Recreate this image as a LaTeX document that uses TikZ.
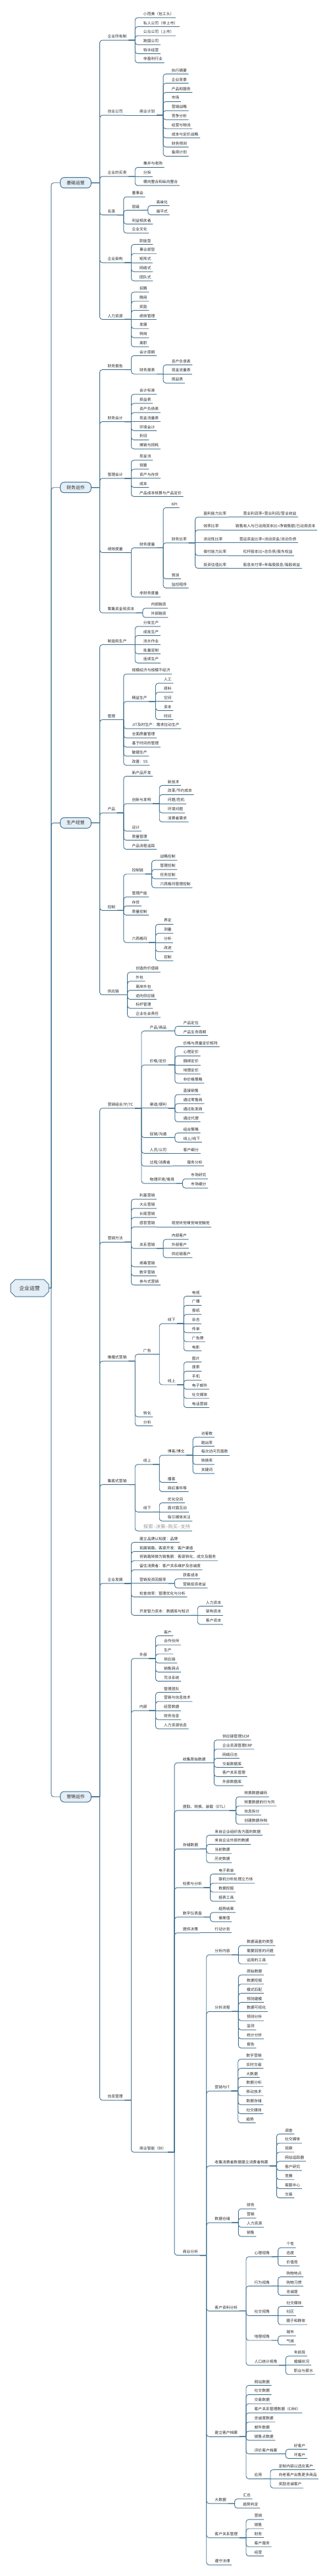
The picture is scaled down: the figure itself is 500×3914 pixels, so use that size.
\documentclass[tikz,border=0pt]{standalone}
\usepackage{fontspec}
\setmainfont{Noto Sans CJK SC}
\usetikzlibrary{shapes.misc}
\definecolor{linec}{RGB}{70,115,145}
\definecolor{boxc}{RGB}{228,238,246}
\definecolor{txtc}{RGB}{40,40,40}
\tikzset{
  topic/.style={anchor=west, xshift=20pt, inner xsep=2.5pt, inner ysep=2pt,
    text height=4.6pt, text depth=1.2pt, text=txtc,
    font=\fontsize{5.8}{6}\selectfont},
  sub/.style={topic, xshift=2pt},
  note/.style={topic, text=gray!80, text height=6pt, text depth=1.5pt,
    font=\fontsize{7.4}{8}\selectfont},
  main/.style={draw=linec, line width=1pt, fill=boxc, rounded corners=6pt,
    minimum width=46.7pt, minimum height=16pt, inner sep=0pt, text=txtc,
    font=\fontsize{6.8}{7}\selectfont},
  root/.style={draw=linec, line width=1pt, fill=boxc, chamfered rectangle,
    chamfered rectangle xsep=4pt, minimum width=58pt, minimum height=26pt,
    inner sep=0pt, text=txtc, font=\fontsize{7.8}{8}\selectfont},
  link/.style={draw=linec, line width=.9pt, rounded corners=4pt},
  rt/.style={link, to path={(\tikztostart.east) -- ++(3.3pt,0) ++(0,0) |- (\tikztotarget.west)}},
  brb/.style={link, to path={(\tikztostart.east) -- ++(12.7pt,0) ++(0,0) |- (\tikztotarget.south east)}},
  br/.style={link, to path={(\tikztostart.south east) -- ++(10pt,0) ++(0,0) |- (\tikztotarget.south east)}},
  one/.style={link, to path={(\tikztostart.south east) -- (\tikztotarget.south east)}},
}
\begin{document}
\begin{tikzpicture}[x=1pt, y=-1pt]
\useasboundingbox (0,0) rectangle (500,3914);

% root and main branches
\node[root] (qy) at (45,1957) {企业运营};
\node[main] (jc) at (115,277.7) {基础运营};
\node[main] (cw) at (115,740.7) {财务运作};
\node[main] (sc) at (115,1250.3) {生产经营};
\node[main] (yx) at (115,2730) {营销运作};

% 基础运营
\node[sub] (jc1) at (jc.east |- 0,56) {企业所有制};
\node[topic] (jc1a) at (jc1.east |- 0,21.7) {小而美（包工头）};
\node[topic] (jc1b) at (jc1.east |- 0,35.4) {私人公司（非上市）};
\node[topic] (jc1c) at (jc1.east |- 0,49.1) {公众公司（上市）};
\node[topic] (jc1d) at (jc1.east |- 0,62.8) {跨国公司};
\node[topic] (jc1e) at (jc1.east |- 0,76.5) {特许经营};
\node[topic] (jc1f) at (jc1.east |- 0,90.2) {非盈利行业};
\node[sub] (jc2) at (jc.east |- 0,170) {创业公司};
\node[topic] (jc2a) at (jc2.east |- 0,170) {商业计划};
\node[topic] (jc2a1) at (jc2a.east |- 0,107.3) {执行摘要};
\node[topic] (jc2a2) at (jc2a.east |- 0,121.3) {企业背景};
\node[topic] (jc2a3) at (jc2a.east |- 0,135.3) {产品和服务};
\node[topic] (jc2a4) at (jc2a.east |- 0,149.2) {市场};
\node[topic] (jc2a5) at (jc2a.east |- 0,163) {营销战略};
\node[topic] (jc2a6) at (jc2a.east |- 0,176.8) {竞争分析};
\node[topic] (jc2a7) at (jc2a.east |- 0,190.6) {经营与物流};
\node[topic] (jc2a8) at (jc2a.east |- 0,204.4) {成本与定价战略};
\node[topic] (jc2a9) at (jc2a.east |- 0,218.3) {财务预测};
\node[topic] (jc2a10) at (jc2a.east |- 0,232.2) {备用计划};
\node[sub] (jc3) at (jc.east |- 0,263) {企业的买卖};
\node[topic] (jc3a) at (jc3.east |- 0,249.2) {兼并与收购};
\node[topic] (jc3b) at (jc3.east |- 0,263) {分拆};
\node[topic] (jc3c) at (jc3.east |- 0,276.8) {横向整合和纵向整合};
\node[sub] (jc4) at (jc.east |- 0,321.5) {名录};
\node[topic] (jc4a) at (jc4.east |- 0,294) {董事会};
\node[topic] (jc4b) at (jc4.east |- 0,314.3) {层级};
\node[topic] (jc4b1) at (jc4b.east |- 0,307.3) {高耸化};
\node[topic] (jc4b2) at (jc4b.east |- 0,321.3) {扁平式};
\node[topic] (jc4c) at (jc4.east |- 0,335.3) {利益相关者};
\node[topic] (jc4d) at (jc4.east |- 0,349) {企业文化};
\node[sub] (jc5) at (jc.east |- 0,394) {企业架构};
\node[topic] (jc5a) at (jc5.east |- 0,366.3) {职能型};
\node[topic] (jc5b) at (jc5.east |- 0,380.1) {事业部型};
\node[topic] (jc5c) at (jc5.east |- 0,394) {矩阵式};
\node[topic] (jc5d) at (jc5.east |- 0,407.8) {网络式};
\node[topic] (jc5e) at (jc5.east |- 0,421.7) {团队式};
\node[sub] (jc6) at (jc.east |- 0,480.3) {人力资源};
\node[topic] (jc6a) at (jc6.east |- 0,438.7) {招聘};
\node[topic] (jc6b) at (jc6.east |- 0,452.6) {聘用};
\node[topic] (jc6c) at (jc6.east |- 0,466.4) {奖励};
\node[topic] (jc6d) at (jc6.east |- 0,480.3) {绩效管理};
\node[topic] (jc6e) at (jc6.east |- 0,494.1) {发展};
\node[topic] (jc6f) at (jc6.east |- 0,508) {转岗};
\node[topic] (jc6g) at (jc6.east |- 0,521.8) {离职};

% 财务运作
\node[sub] (cw1) at (cw.east |- 0,556.5) {财务报告};
\node[topic] (cw1a) at (cw1.east |- 0,535.3) {会计周期};
\node[topic] (cw1b) at (cw1.east |- 0,563.1) {财务报表};
\node[topic] (cw1b1) at (cw1b.east |- 0,549.3) {资产负债表};
\node[topic] (cw1b2) at (cw1b.east |- 0,563.1) {现金流量表};
\node[topic] (cw1b3) at (cw1b.east |- 0,577) {损益表};
\node[sub] (cw2) at (cw.east |- 0,635.5) {财务会计};
\node[topic] (cw2a) at (cw2.east |- 0,594) {会计标准};
\node[topic] (cw2b) at (cw2.east |- 0,607.8) {损益表};
\node[topic] (cw2c) at (cw2.east |- 0,621.7) {资产负债表};
\node[topic] (cw2d) at (cw2.east |- 0,635.5) {现金流量表};
\node[topic] (cw2e) at (cw2.east |- 0,649.3) {环境会计};
\node[topic] (cw2f) at (cw2.east |- 0,663.2) {折旧};
\node[topic] (cw2g) at (cw2.east |- 0,677) {摊销与损耗};
\node[sub] (cw3) at (cw.east |- 0,721.7) {管理会计};
\node[topic] (cw3a) at (cw3.east |- 0,694) {现金流};
\node[topic] (cw3b) at (cw3.east |- 0,707.8) {预算};
\node[topic] (cw3c) at (cw3.east |- 0,721.7) {资产与存货};
\node[topic] (cw3d) at (cw3.east |- 0,735.5) {成本};
\node[topic] (cw3e) at (cw3.east |- 0,749.3) {产品成本核算与产品定价};
\node[sub] (cw4) at (cw.east |- 0,834.5) {绩效度量};
\node[topic] (cw4a) at (cw4.east |- 0,827.3) {财务度量};
\node[topic] (cw4a1) at (cw4a.east |- 0,766.3) {KPI};
\node[topic] (cw4a2) at (cw4a.east |- 0,819.7) {财务比率};
\node[topic] (cw4a2a) at (cw4a2.east |- 0,780.7) {盈利能力比率};
\node[topic] (cw4a2a1) at (cw4a2a.east |- 0,780.7) {营业利润率=营业利润/营业收益};
\node[topic] (cw4a2b) at (cw4a2.east |- 0,800) {效率比率};
\node[topic] (cw4a2b1) at (cw4a2b.east |- 0,800) {销售收入与已动用资本比=净销售额/已动用资本};
\node[topic] (cw4a2c) at (cw4a2.east |- 0,819.7) {流动性比率};
\node[topic] (cw4a2c1) at (cw4a2c.east |- 0,819.7) {营运资金比率=流动资金/流动负债};
\node[topic] (cw4a2d) at (cw4a2.east |- 0,839) {偿付能力比率};
\node[topic] (cw4a2d1) at (cw4a2d.east |- 0,839) {杠杆股本比=总负债/股东权益};
\node[topic] (cw4a2e) at (cw4a2.east |- 0,858.3) {投资估值比率};
\node[topic] (cw4a2e1) at (cw4a2e.east |- 0,858.3) {股息支付率=年每股股息/每股收益};
\node[topic] (cw4a3) at (cw4a.east |- 0,874.3) {预测};
\node[topic] (cw4a4) at (cw4a.east |- 0,888.3) {监控程序};
\node[topic] (cw4b) at (cw4.east |- 0,902) {非财务度量};
\node[sub] (cw5) at (cw.east |- 0,926) {筹集资金和资本};
\node[topic] (cw5a) at (cw5.east |- 0,919) {内部融资};
\node[topic] (cw5b) at (cw5.east |- 0,933) {外部融资};

% 生产经营
\node[sub] (sc1) at (sc.east |- 0,974.4) {制造和生产};
\node[topic] (sc1a) at (sc1.east |- 0,946.7) {分批生产};
\node[topic] (sc1b) at (sc1.east |- 0,960.5) {成批生产};
\node[topic] (sc1c) at (sc1.east |- 0,974.4) {流水作业};
\node[topic] (sc1d) at (sc1.east |- 0,988.3) {批量定制};
\node[topic] (sc1e) at (sc1.east |- 0,1002.2) {连续生产};
\node[sub] (sc2) at (sc.east |- 0,1088.4) {管理};
\node[topic] (sc2a) at (sc2.east |- 0,1019) {规模经济与规模不经济};
\node[topic] (sc2b) at (sc2.east |- 0,1060.7) {精益生产};
\node[topic] (sc2b1) at (sc2b.east |- 0,1033) {人工};
\node[topic] (sc2b2) at (sc2b.east |- 0,1046.8) {原料};
\node[topic] (sc2b3) at (sc2b.east |- 0,1060.7) {空间};
\node[topic] (sc2b4) at (sc2b.east |- 0,1074.5) {资本};
\node[topic] (sc2b5) at (sc2b.east |- 0,1088.3) {时间};
\node[topic] (sc2c) at (sc2.east |- 0,1102) {JIT及时生产：需求拉动生产};
\node[topic] (sc2d) at (sc2.east |- 0,1116) {全面质量管理};
\node[topic] (sc2e) at (sc2.east |- 0,1130) {基于时间的管理};
\node[topic] (sc2f) at (sc2.east |- 0,1143.8) {敏捷生产};
\node[topic] (sc2g) at (sc2.east |- 0,1157.7) {改善：5S};
\node[sub] (sc3) at (sc.east |- 0,1230) {产品};
\node[topic] (sc3a) at (sc3.east |- 0,1174.3) {新产品开发};
\node[topic] (sc3b) at (sc3.east |- 0,1216) {创新与发明};
\node[topic] (sc3b1) at (sc3b.east |- 0,1188.3) {新技术};
\node[topic] (sc3b2) at (sc3b.east |- 0,1202.2) {改革/节约成本};
\node[topic] (sc3b3) at (sc3b.east |- 0,1216) {问题/危机};
\node[topic] (sc3b4) at (sc3b.east |- 0,1230) {环境问题};
\node[topic] (sc3b5) at (sc3b.east |- 0,1243.8) {消费者需求};
\node[topic] (sc3c) at (sc3.east |- 0,1257.7) {设计};
\node[topic] (sc3d) at (sc3.east |- 0,1271.5) {质量管理};
\node[topic] (sc3e) at (sc3.east |- 0,1285.3) {产品流程追踪};
\node[sub] (sc4) at (sc.east |- 0,1378.3) {控制};
\node[topic] (sc4a) at (sc4.east |- 0,1322.9) {控制链};
\node[topic] (sc4a1) at (sc4a.east |- 0,1302) {战略控制};
\node[topic] (sc4a2) at (sc4a.east |- 0,1316) {管理控制};
\node[topic] (sc4a3) at (sc4a.east |- 0,1330) {任务控制};
\node[topic] (sc4a4) at (sc4a.east |- 0,1343.8) {六西格玛管理控制};
\node[topic] (sc4b) at (sc4.east |- 0,1357.7) {管理产能};
\node[topic] (sc4c) at (sc4.east |- 0,1371.5) {存货};
\node[topic] (sc4d) at (sc4.east |- 0,1385.3) {质量控制};
\node[topic] (sc4e) at (sc4.east |- 0,1427) {六西格玛};
\node[topic] (sc4e1) at (sc4e.east |- 0,1399.2) {界定};
\node[topic] (sc4e2) at (sc4e.east |- 0,1413) {测量};
\node[topic] (sc4e3) at (sc4e.east |- 0,1427) {分析};
\node[topic] (sc4e4) at (sc4e.east |- 0,1440.8) {改进};
\node[topic] (sc4e5) at (sc4e.east |- 0,1454.7) {控制};
\node[sub] (sc5) at (sc.east |- 0,1506.4) {供应链};
\node[topic] (sc5a) at (sc5.east |- 0,1472) {创造的价值链};
\node[topic] (sc5b) at (sc5.east |- 0,1485.8) {外包};
\node[topic] (sc5c) at (sc5.east |- 0,1499.5) {离岸外包};
\node[topic] (sc5d) at (sc5.east |- 0,1513.3) {逆向供应链};
\node[topic] (sc5e) at (sc5.east |- 0,1527) {标杆管理};
\node[topic] (sc5f) at (sc5.east |- 0,1540.8) {企业社会责任};

% 营销运作
\node[sub] (yx1) at (yx.east |- 0,1678.7) {营销组合7P/7C};
\node[topic] (yx1a) at (yx1.east |- 0,1561.3) {产品/商品};
\node[topic] (yx1a1) at (yx1a.east |- 0,1554.3) {产品定位};
\node[topic] (yx1a2) at (yx1a.east |- 0,1568.3) {产品生命周期};
\node[topic] (yx1b) at (yx1.east |- 0,1613) {价格/定价};
\node[topic] (yx1b1) at (yx1b.east |- 0,1585.3) {价格与质量定价矩阵};
\node[topic] (yx1b2) at (yx1b.east |- 0,1599.2) {心理定价};
\node[topic] (yx1b3) at (yx1b.east |- 0,1613) {捆绑定价};
\node[topic] (yx1b4) at (yx1b.east |- 0,1626.8) {地理定价};
\node[topic] (yx1b5) at (yx1b.east |- 0,1640.7) {非价格策略};
\node[topic] (yx1c) at (yx1.east |- 0,1678.7) {渠道/便利};
\node[topic] (yx1c1) at (yx1c.east |- 0,1658) {直接销售};
\node[topic] (yx1c2) at (yx1c.east |- 0,1671.8) {通过零售商};
\node[topic] (yx1c3) at (yx1c.east |- 0,1685.6) {通过批发商};
\node[topic] (yx1c4) at (yx1c.east |- 0,1699.4) {通过代理};
\node[topic] (yx1d) at (yx1.east |- 0,1723.3) {促销/沟通};
\node[topic] (yx1d1) at (yx1d.east |- 0,1716.3) {组合策略};
\node[topic] (yx1d2) at (yx1d.east |- 0,1730.3) {线上/线下};
\node[topic] (yx1e) at (yx1.east |- 0,1747.3) {人员/公司};
\node[topic] (yx1e1) at (yx1e.east |- 0,1747.3) {客户细分};
\node[topic] (yx1f) at (yx1.east |- 0,1766.8) {过程/消费者};
\node[topic] (yx1f1) at (yx1f.east |- 0,1766.8) {服务分析};
\node[topic] (yx1g) at (yx1.east |- 0,1793) {物理环境/情境};
\node[topic] (yx1g1) at (yx1g.east |- 0,1786) {市场研究};
\node[topic] (yx1g2) at (yx1g.east |- 0,1800) {市场细分};
\node[sub] (yx2) at (yx.east |- 0,1882.2) {营销方法};
\node[topic] (yx2a) at (yx2.east |- 0,1817) {利基营销};
\node[topic] (yx2b) at (yx2.east |- 0,1831) {大众营销};
\node[topic] (yx2c) at (yx2.east |- 0,1844.8) {长尾营销};
\node[topic] (yx2d) at (yx2.east |- 0,1859) {感官营销};
\node[topic] (yx2d1) at (yx2d.east |- 0,1859) {视觉听觉嗅觉味觉触觉};
\node[topic] (yx2e) at (yx2.east |- 0,1891.8) {关系营销};
\node[topic] (yx2e1) at (yx2e.east |- 0,1878) {内部客户};
\node[topic] (yx2e2) at (yx2e.east |- 0,1891.8) {外部客户};
\node[topic] (yx2e3) at (yx2e.east |- 0,1905.7) {供应链客户};
\node[topic] (yx2f) at (yx2.east |- 0,1919.7) {病毒营销};
\node[topic] (yx2g) at (yx2.east |- 0,1933.5) {数字营销};
\node[topic] (yx2h) at (yx2.east |- 0,1947.3) {参与式营销};
\node[sub] (yx3) at (yx.east |- 0,2063) {推播式营销};
\node[topic] (yx3a) at (yx3.east |- 0,2052.5) {广告};
\node[topic] (yx3a1) at (yx3a.east |- 0,2006) {线下};
\node[topic] (yx3a1a) at (yx3a1.east |- 0,1964.3) {电视};
\node[topic] (yx3a1b) at (yx3a1.east |- 0,1978.2) {广播};
\node[topic] (yx3a1c) at (yx3a1.east |- 0,1992) {报纸};
\node[topic] (yx3a1d) at (yx3a1.east |- 0,2006) {杂志};
\node[topic] (yx3a1e) at (yx3a1.east |- 0,2019.8) {传单};
\node[topic] (yx3a1f) at (yx3a1.east |- 0,2033.6) {广告牌};
\node[topic] (yx3a1g) at (yx3a1.east |- 0,2047.4) {电影};
\node[topic] (yx3a2) at (yx3a.east |- 0,2098.9) {线上};
\node[topic] (yx3a2a) at (yx3a2.east |- 0,2064.3) {图片};
\node[topic] (yx3a2b) at (yx3a2.east |- 0,2078.2) {搜索};
\node[topic] (yx3a2c) at (yx3a2.east |- 0,2092) {手机};
\node[topic] (yx3a2d) at (yx3a2.east |- 0,2105.8) {电子邮件};
\node[topic] (yx3a2e) at (yx3a2.east |- 0,2119.6) {社交媒体};
\node[topic] (yx3a2f) at (yx3a2.east |- 0,2133.5) {电话营销};
\node[topic] (yx3b) at (yx3.east |- 0,2147.7) {转化};
\node[topic] (yx3c) at (yx3.east |- 0,2161.3) {分析};
\node[sub] (yx4) at (yx.east |- 0,2250.5) {集客式营销};
\node[topic] (yx4a) at (yx4.east |- 0,2220) {线上};
\node[topic] (yx4a1) at (yx4a.east |- 0,2206) {博客/博文};
\node[topic] (yx4a1a) at (yx4a1.east |- 0,2178.7) {访客数};
\node[topic] (yx4a1b) at (yx4a1.east |- 0,2192.3) {跳出率};
\node[topic] (yx4a1c) at (yx4a1.east |- 0,2206) {每次访问页面数};
\node[topic] (yx4a1d) at (yx4a1.east |- 0,2220) {转换率};
\node[topic] (yx4a1e) at (yx4a1.east |- 0,2233.7) {关键词};
\node[topic] (yx4a2) at (yx4a.east |- 0,2247.3) {播客};
\node[topic] (yx4a3) at (yx4a.east |- 0,2261.3) {网红事件等};
\node[topic] (yx4b) at (yx4.east |- 0,2292.2) {线下};
\node[topic] (yx4b1) at (yx4b.east |- 0,2278.3) {优化空间};
\node[topic] (yx4b2) at (yx4b.east |- 0,2292.2) {面对面互动};
\node[topic] (yx4b3) at (yx4b.east |- 0,2306) {吸引媒体关注};
\node[note] (yx4c) at (yx4.east |- 0,2320.2) {探索--决策--购买--支持};
\node[sub] (yx5) at (yx.east |- 0,2400.7) {企业发展};
\node[topic] (yx5a) at (yx5.east |- 0,2338.3) {建立品牌认知度：品牌};
\node[topic] (yx5b) at (yx5.east |- 0,2352.3) {拓展销路，客源开发：客户渠道};
\node[topic] (yx5c) at (yx5.east |- 0,2366.1) {将销路转换为销售额：客源转化，成交及服务};
\node[topic] (yx5d) at (yx5.east |- 0,2380) {留住消费者：客户关系维护及忠诚度};
\node[topic] (yx5e) at (yx5.east |- 0,2400.7) {营销投资回报率};
\node[topic] (yx5e1) at (yx5e.east |- 0,2393.7) {获客成本};
\node[topic] (yx5e2) at (yx5e.east |- 0,2407.7) {营销投资收益};
\node[topic] (yx5f) at (yx5.east |- 0,2421.3) {检查效率：管理优化与分析};
\node[topic] (yx5g) at (yx5.east |- 0,2449.2) {开发智力资本：数据库与知识};
\node[topic] (yx5g1) at (yx5g.east |- 0,2435.3) {人力资本};
\node[topic] (yx5g2) at (yx5g.east |- 0,2449.2) {架构资本};
\node[topic] (yx5g3) at (yx5g.east |- 0,2463) {客户资本};
\node[sub] (yx6) at (yx.east |- 0,3186) {信息管理};
\node[topic] (yx6a) at (yx6.east |- 0,2514.8) {外部};
\node[topic] (yx6a1) at (yx6a.east |- 0,2480.3) {客户};
\node[topic] (yx6a2) at (yx6a.east |- 0,2494.1) {合作伙伴};
\node[topic] (yx6a3) at (yx6a.east |- 0,2507.9) {生产};
\node[topic] (yx6a4) at (yx6a.east |- 0,2521.7) {供应链};
\node[topic] (yx6a5) at (yx6a.east |- 0,2535.5) {销售网点};
\node[topic] (yx6a6) at (yx6a.east |- 0,2549.3) {司法系统};
\node[topic] (yx6b) at (yx6.east |- 0,2594) {内部};
\node[topic] (yx6b1) at (yx6b.east |- 0,2566.3) {管理团队};
\node[topic] (yx6b2) at (yx6b.east |- 0,2580.1) {营销与信息技术};
\node[topic] (yx6b3) at (yx6b.east |- 0,2594) {经营数据};
\node[topic] (yx6b4) at (yx6b.east |- 0,2607.8) {财务信息};
\node[topic] (yx6b5) at (yx6b.east |- 0,2621.7) {人力资源信息};
\node[topic] (yx6c) at (yx6.east |- 0,3265) {商业智能（BI）};
\node[topic] (yx6c1) at (yx6c.east |- 0,2673.4) {收集原始数据};
\node[topic] (yx6c1a) at (yx6c1.east |- 0,2638.7) {供应链管理SCM};
\node[topic] (yx6c1b) at (yx6c1.east |- 0,2652.6) {企业资源管理ERP};
\node[topic] (yx6c1c) at (yx6c1.east |- 0,2666.5) {网络日志};
\node[topic] (yx6c1d) at (yx6c1.east |- 0,2680.3) {交易数据库};
\node[topic] (yx6c1e) at (yx6c1.east |- 0,2694.2) {客户关系管理};
\node[topic] (yx6c1f) at (yx6c1.east |- 0,2708) {外部数据库};
\node[topic] (yx6c2) at (yx6c.east |- 0,2745.8) {提取、转换、装载（ETL）};
\node[topic] (yx6c2a) at (yx6c2.east |- 0,2725) {转换数据编码};
\node[topic] (yx6c2b) at (yx6c2.east |- 0,2738.9) {转置数据的行与列};
\node[topic] (yx6c2c) at (yx6c2.east |- 0,2752.7) {信息拆分};
\node[topic] (yx6c2d) at (yx6c2.east |- 0,2766.6) {创建数据存档};
\node[topic] (yx6c3) at (yx6c.east |- 0,2804.2) {存储数据};
\node[topic] (yx6c3a) at (yx6c3.east |- 0,2783.3) {来自企业组织各方面的数据};
\node[topic] (yx6c3b) at (yx6c3.east |- 0,2797.2) {来自企业外部的数据};
\node[topic] (yx6c3c) at (yx6c3.east |- 0,2811.1) {当前数据};
\node[topic] (yx6c3d) at (yx6c3.east |- 0,2825) {历史数据};
\node[topic] (yx6c4) at (yx6c.east |- 0,2863) {检索与分析};
\node[topic] (yx6c4a) at (yx6c4.east |- 0,2842.3) {电子表单};
\node[topic] (yx6c4b) at (yx6c4.east |- 0,2856.1) {联机分析处理立方体};
\node[topic] (yx6c4c) at (yx6c4.east |- 0,2869.9) {数据挖掘};
\node[topic] (yx6c4d) at (yx6c4.east |- 0,2883.7) {报表工具};
\node[topic] (yx6c5) at (yx6c.east |- 0,2907.7) {数字仪表盘};
\node[topic] (yx6c5a) at (yx6c5.east |- 0,2900.7) {趋势结果};
\node[topic] (yx6c5b) at (yx6c5.east |- 0,2914.7) {偏差值};
\node[topic] (yx6c6) at (yx6c.east |- 0,2931.7) {提供决策};
\node[topic] (yx6c6a) at (yx6c6.east |- 0,2931.7) {行动计划};
\node[topic] (yx6c7) at (yx6c.east |- 0,3421.5) {商业分析};
\node[topic] (yx6c7a) at (yx6c7.east |- 0,2965) {分析内容};
\node[topic] (yx6c7a1) at (yx6c7a.east |- 0,2951) {数据涵盖的类型};
\node[topic] (yx6c7a2) at (yx6c7a.east |- 0,2965) {需要回答的问题};
\node[topic] (yx6c7a3) at (yx6c7a.east |- 0,2978.9) {运用的工具};
\node[topic] (yx6c7b) at (yx6c7.east |- 0,3051.2) {分析流程};
\node[topic] (yx6c7b1) at (yx6c7b.east |- 0,2995.7) {原始数据};
\node[topic] (yx6c7b2) at (yx6c7b.east |- 0,3009.6) {数据挖掘};
\node[topic] (yx6c7b3) at (yx6c7b.east |- 0,3023.5) {模式匹配};
\node[topic] (yx6c7b4) at (yx6c7b.east |- 0,3037.3) {预测建模};
\node[topic] (yx6c7b5) at (yx6c7b.east |- 0,3051.2) {数据可视化};
\node[topic] (yx6c7b6) at (yx6c7b.east |- 0,3065.1) {预测分析};
\node[topic] (yx6c7b7) at (yx6c7b.east |- 0,3079) {监测};
\node[topic] (yx6c7b8) at (yx6c7b.east |- 0,3092.8) {统计分析};
\node[topic] (yx6c7b9) at (yx6c7b.east |- 0,3106.7) {报告};
\node[topic] (yx6c7c) at (yx6c7.east |- 0,3172) {营销与IT};
\node[topic] (yx6c7c1) at (yx6c7c.east |- 0,3123.7) {数字营销};
\node[topic] (yx6c7c2) at (yx6c7c.east |- 0,3137.5) {实时交易};
\node[topic] (yx6c7c3) at (yx6c7c.east |- 0,3151.3) {大数据};
\node[topic] (yx6c7c4) at (yx6c7c.east |- 0,3165.1) {数据分析};
\node[topic] (yx6c7c5) at (yx6c7c.east |- 0,3178.9) {移动技术};
\node[topic] (yx6c7c6) at (yx6c7c.east |- 0,3192.7) {数据存储};
\node[topic] (yx6c7c7) at (yx6c7c.east |- 0,3206.5) {社交媒体};
\node[topic] (yx6c7c8) at (yx6c7c.east |- 0,3220.3) {趋势};
\node[topic] (yx6c7d) at (yx6c7.east |- 0,3285.8) {收集消费者数据建立消费者档案};
\node[topic] (yx6c7d1) at (yx6c7d.east |- 0,3237.3) {调查};
\node[topic] (yx6c7d2) at (yx6c7d.east |- 0,3251.1) {社交媒体};
\node[topic] (yx6c7d3) at (yx6c7d.east |- 0,3264.9) {观察};
\node[topic] (yx6c7d4) at (yx6c7d.east |- 0,3278.8) {网站追踪器};
\node[topic] (yx6c7d5) at (yx6c7d.east |- 0,3292.7) {客户研究};
\node[topic] (yx6c7d6) at (yx6c7d.east |- 0,3306.6) {竞赛};
\node[topic] (yx6c7d7) at (yx6c7d.east |- 0,3320.4) {客服中心};
\node[topic] (yx6c7d8) at (yx6c7d.east |- 0,3334.3) {交易};
\node[topic] (yx6c7e) at (yx6c7.east |- 0,3372) {数据仓储};
\node[topic] (yx6c7e1) at (yx6c7e.east |- 0,3351) {财务};
\node[topic] (yx6c7e2) at (yx6c7e.east |- 0,3365) {营销};
\node[topic] (yx6c7e3) at (yx6c7e.east |- 0,3379) {人力资源};
\node[topic] (yx6c7e4) at (yx6c7e.east |- 0,3393) {销售};
\node[topic] (yx6c7f) at (yx6c7.east |- 0,3506.3) {客户资料分析};
\node[topic] (yx6c7f1) at (yx6c7f.east |- 0,3423.8) {心理视角};
\node[topic] (yx6c7f1a) at (yx6c7f1.east |- 0,3410) {个性};
\node[topic] (yx6c7f1b) at (yx6c7f1.east |- 0,3423.8) {态度};
\node[topic] (yx6c7f1c) at (yx6c7f1.east |- 0,3437.7) {价值观};
\node[topic] (yx6c7f2) at (yx6c7f.east |- 0,3468.3) {行为视角};
\node[topic] (yx6c7f2a) at (yx6c7f2.east |- 0,3454.3) {购物地点};
\node[topic] (yx6c7f2b) at (yx6c7f2.east |- 0,3468.3) {购物习惯};
\node[topic] (yx6c7f2c) at (yx6c7f2.east |- 0,3482.3) {忠诚度};
\node[topic] (yx6c7f3) at (yx6c7f.east |- 0,3513.2) {社交视角};
\node[topic] (yx6c7f3a) at (yx6c7f3.east |- 0,3499.3) {社交媒体};
\node[topic] (yx6c7f3b) at (yx6c7f3.east |- 0,3513.2) {社区};
\node[topic] (yx6c7f3c) at (yx6c7f3.east |- 0,3526.9) {圈子和群体};
\node[topic] (yx6c7f4) at (yx6c7f.east |- 0,3550.9) {地理视角};
\node[topic] (yx6c7f4a) at (yx6c7f4.east |- 0,3544) {城市};
\node[topic] (yx6c7f4b) at (yx6c7f4.east |- 0,3557.8) {气候};
\node[topic] (yx6c7f5) at (yx6c7f.east |- 0,3588.7) {人口统计视角};
\node[topic] (yx6c7f5a) at (yx6c7f5.east |- 0,3574.8) {年龄段};
\node[topic] (yx6c7f5b) at (yx6c7f5.east |- 0,3588.7) {婚姻状况};
\node[topic] (yx6c7f5c) at (yx6c7f5.east |- 0,3602.6) {职业与薪水};
\node[topic] (yx6c7g) at (yx6c7.east |- 0,3697.2) {建立客户档案};
\node[topic] (yx6c7g1) at (yx6c7g.east |- 0,3619.3) {网站数据};
\node[topic] (yx6c7g2) at (yx6c7g.east |- 0,3633.2) {社交数据};
\node[topic] (yx6c7g3) at (yx6c7g.east |- 0,3647.1) {交易数据};
\node[topic] (yx6c7g4) at (yx6c7g.east |- 0,3661) {客户关系管理数据（CRM）};
\node[topic] (yx6c7g5) at (yx6c7g.east |- 0,3674.9) {忠诚度数据};
\node[topic] (yx6c7g6) at (yx6c7g.east |- 0,3688.8) {邮件数据};
\node[topic] (yx6c7g7) at (yx6c7g.east |- 0,3702.7) {销售点数据};
\node[topic] (yx6c7g8) at (yx6c7g.east |- 0,3723.3) {评价客户档案};
\node[topic] (yx6c7g8a) at (yx6c7g8.east |- 0,3716.3) {好客户};
\node[topic] (yx6c7g8b) at (yx6c7g8.east |- 0,3730.3) {坏客户};
\node[topic] (yx6c7g9) at (yx6c7g.east |- 0,3761.2) {应用};
\node[topic] (yx6c7g9a) at (yx6c7g9.east |- 0,3747.3) {定制内容以适应客户};
\node[topic] (yx6c7g9b) at (yx6c7g9.east |- 0,3761.2) {向老客户出售更多商品};
\node[topic] (yx6c7g9c) at (yx6c7g9.east |- 0,3775.1) {奖励忠诚客户};
\node[topic] (yx6c7h) at (yx6c7.east |- 0,3798.7) {大数据};
\node[topic] (yx6c7h1) at (yx6c7h.east |- 0,3791.7) {汇总};
\node[topic] (yx6c7h2) at (yx6c7h.east |- 0,3805.7) {趋势判定};
\node[topic] (yx6c7i) at (yx6c7.east |- 0,3850.7) {客户关系管理};
\node[topic] (yx6c7i1) at (yx6c7i.east |- 0,3823) {营销};
\node[topic] (yx6c7i2) at (yx6c7i.east |- 0,3836.9) {销售};
\node[topic] (yx6c7i3) at (yx6c7i.east |- 0,3850.7) {财务};
\node[topic] (yx6c7i4) at (yx6c7i.east |- 0,3864.6) {客户服务};
\node[topic] (yx6c7i5) at (yx6c7i.east |- 0,3878.5) {经营};
\node[topic] (yx6c7j) at (yx6c7.east |- 0,3892) {遵守法律};

% connectors
\draw (qy) edge[rt] (jc) edge[rt] (cw) edge[rt] (sc) edge[rt] (yx);
\draw (jc) edge[brb] (jc1) edge[brb] (jc2) edge[brb] (jc3) edge[brb] (jc4) edge[brb] (jc5) edge[brb] (jc6);
\draw (jc1) edge[br] (jc1a) edge[br] (jc1b) edge[br] (jc1c) edge[br] (jc1d) edge[br] (jc1e) edge[br] (jc1f);
\draw (jc2) edge[one] (jc2a);
\draw (jc2a) edge[br] (jc2a1) edge[br] (jc2a2) edge[br] (jc2a3) edge[br] (jc2a4) edge[br] (jc2a5)
      edge[br] (jc2a6) edge[br] (jc2a7) edge[br] (jc2a8) edge[br] (jc2a9) edge[br] (jc2a10);
\draw (jc3) edge[br] (jc3a) edge[one] (jc3b) edge[br] (jc3c);
\draw (jc4) edge[br] (jc4a) edge[br] (jc4b) edge[br] (jc4c) edge[br] (jc4d);
\draw (jc4b) edge[br] (jc4b1) edge[br] (jc4b2);
\draw (jc5) edge[br] (jc5a) edge[br] (jc5b) edge[one] (jc5c) edge[br] (jc5d) edge[br] (jc5e);
\draw (jc6) edge[br] (jc6a) edge[br] (jc6b) edge[br] (jc6c) edge[one] (jc6d) edge[br] (jc6e) edge[br] (jc6f) edge[br] (jc6g);

\draw (cw) edge[brb] (cw1) edge[brb] (cw2) edge[brb] (cw3) edge[brb] (cw4) edge[brb] (cw5);
\draw (cw1) edge[br] (cw1a) edge[br] (cw1b);
\draw (cw1b) edge[br] (cw1b1) edge[one] (cw1b2) edge[br] (cw1b3);
\draw (cw2) edge[br] (cw2a) edge[br] (cw2b) edge[br] (cw2c) edge[one] (cw2d) edge[br] (cw2e) edge[br] (cw2f) edge[br] (cw2g);
\draw (cw3) edge[br] (cw3a) edge[br] (cw3b) edge[one] (cw3c) edge[br] (cw3d) edge[br] (cw3e);
\draw (cw4) edge[br] (cw4a) edge[br] (cw4b);
\draw (cw4a) edge[br] (cw4a1) edge[br] (cw4a2) edge[br] (cw4a3) edge[br] (cw4a4);
\draw (cw4a2) edge[br] (cw4a2a) edge[br] (cw4a2b) edge[one] (cw4a2c) edge[br] (cw4a2d) edge[br] (cw4a2e);
\draw (cw4a2a) edge[one] (cw4a2a1)  (cw4a2b) edge[one] (cw4a2b1)  (cw4a2c) edge[one] (cw4a2c1)
      (cw4a2d) edge[one] (cw4a2d1)  (cw4a2e) edge[one] (cw4a2e1);
\draw (cw5) edge[br] (cw5a) edge[br] (cw5b);

\draw (sc) edge[brb] (sc1) edge[brb] (sc2) edge[brb] (sc3) edge[brb] (sc4) edge[brb] (sc5);
\draw (sc1) edge[br] (sc1a) edge[br] (sc1b) edge[one] (sc1c) edge[br] (sc1d) edge[br] (sc1e);
\draw (sc2) edge[br] (sc2a) edge[br] (sc2b) edge[br] (sc2c) edge[br] (sc2d) edge[br] (sc2e) edge[br] (sc2f) edge[br] (sc2g);
\draw (sc2b) edge[br] (sc2b1) edge[br] (sc2b2) edge[one] (sc2b3) edge[br] (sc2b4) edge[br] (sc2b5);
\draw (sc3) edge[br] (sc3a) edge[br] (sc3b) edge[br] (sc3c) edge[br] (sc3d) edge[br] (sc3e);
\draw (sc3b) edge[br] (sc3b1) edge[br] (sc3b2) edge[one] (sc3b3) edge[br] (sc3b4) edge[br] (sc3b5);
\draw (sc4) edge[br] (sc4a) edge[br] (sc4b) edge[br] (sc4c) edge[br] (sc4d) edge[br] (sc4e);
\draw (sc4a) edge[br] (sc4a1) edge[br] (sc4a2) edge[br] (sc4a3) edge[br] (sc4a4);
\draw (sc4e) edge[br] (sc4e1) edge[br] (sc4e2) edge[one] (sc4e3) edge[br] (sc4e4) edge[br] (sc4e5);
\draw (sc5) edge[br] (sc5a) edge[br] (sc5b) edge[br] (sc5c) edge[br] (sc5d) edge[br] (sc5e) edge[br] (sc5f);

\draw (yx) edge[brb] (yx1) edge[brb] (yx2) edge[brb] (yx3) edge[brb] (yx4) edge[brb] (yx5) edge[brb] (yx6);
\draw (yx1) edge[br] (yx1a) edge[br] (yx1b) edge[one] (yx1c) edge[br] (yx1d) edge[br] (yx1e) edge[br] (yx1f) edge[br] (yx1g);
\draw (yx1a) edge[br] (yx1a1) edge[br] (yx1a2);
\draw (yx1b) edge[br] (yx1b1) edge[br] (yx1b2) edge[one] (yx1b3) edge[br] (yx1b4) edge[br] (yx1b5);
\draw (yx1c) edge[br] (yx1c1) edge[br] (yx1c2) edge[br] (yx1c3) edge[br] (yx1c4);
\draw (yx1d) edge[br] (yx1d1) edge[br] (yx1d2);
\draw (yx1e) edge[one] (yx1e1)  (yx1f) edge[one] (yx1f1);
\draw (yx1g) edge[br] (yx1g1) edge[br] (yx1g2);
\draw (yx2) edge[br] (yx2a) edge[br] (yx2b) edge[br] (yx2c) edge[br] (yx2d) edge[br] (yx2e) edge[br] (yx2f) edge[br] (yx2g) edge[br] (yx2h);
\draw (yx2d) edge[one] (yx2d1);
\draw (yx2e) edge[br] (yx2e1) edge[one] (yx2e2) edge[br] (yx2e3);
\draw (yx3) edge[br] (yx3a) edge[br] (yx3b) edge[br] (yx3c);
\draw (yx3a) edge[br] (yx3a1) edge[br] (yx3a2);
\draw (yx3a1) edge[br] (yx3a1a) edge[br] (yx3a1b) edge[br] (yx3a1c) edge[one] (yx3a1d) edge[br] (yx3a1e) edge[br] (yx3a1f) edge[br] (yx3a1g);
\draw (yx3a2) edge[br] (yx3a2a) edge[br] (yx3a2b) edge[br] (yx3a2c) edge[br] (yx3a2d) edge[br] (yx3a2e) edge[br] (yx3a2f);
\draw (yx4) edge[br] (yx4a) edge[br] (yx4b) edge[br] (yx4c);
\draw (yx4a) edge[br] (yx4a1) edge[br] (yx4a2) edge[br] (yx4a3);
\draw (yx4a1) edge[br] (yx4a1a) edge[br] (yx4a1b) edge[one] (yx4a1c) edge[br] (yx4a1d) edge[br] (yx4a1e);
\draw (yx4b) edge[br] (yx4b1) edge[one] (yx4b2) edge[br] (yx4b3);
\draw (yx5) edge[br] (yx5a) edge[br] (yx5b) edge[br] (yx5c) edge[br] (yx5d) edge[one] (yx5e) edge[br] (yx5f) edge[br] (yx5g);
\draw (yx5e) edge[br] (yx5e1) edge[br] (yx5e2);
\draw (yx5g) edge[br] (yx5g1) edge[one] (yx5g2) edge[br] (yx5g3);
\draw (yx6) edge[br] (yx6a) edge[br] (yx6b) edge[br] (yx6c);
\draw (yx6a) edge[br] (yx6a1) edge[br] (yx6a2) edge[br] (yx6a3) edge[br] (yx6a4) edge[br] (yx6a5) edge[br] (yx6a6);
\draw (yx6b) edge[br] (yx6b1) edge[br] (yx6b2) edge[one] (yx6b3) edge[br] (yx6b4) edge[br] (yx6b5);
\draw (yx6c) edge[br] (yx6c1) edge[br] (yx6c2) edge[br] (yx6c3) edge[br] (yx6c4) edge[br] (yx6c5) edge[br] (yx6c6) edge[br] (yx6c7);
\draw (yx6c1) edge[br] (yx6c1a) edge[br] (yx6c1b) edge[br] (yx6c1c) edge[br] (yx6c1d) edge[br] (yx6c1e) edge[br] (yx6c1f);
\draw (yx6c2) edge[br] (yx6c2a) edge[br] (yx6c2b) edge[br] (yx6c2c) edge[br] (yx6c2d);
\draw (yx6c3) edge[br] (yx6c3a) edge[br] (yx6c3b) edge[br] (yx6c3c) edge[br] (yx6c3d);
\draw (yx6c4) edge[br] (yx6c4a) edge[br] (yx6c4b) edge[br] (yx6c4c) edge[br] (yx6c4d);
\draw (yx6c5) edge[br] (yx6c5a) edge[br] (yx6c5b);
\draw (yx6c6) edge[one] (yx6c6a);
\draw (yx6c7) edge[br] (yx6c7a) edge[br] (yx6c7b) edge[br] (yx6c7c) edge[br] (yx6c7d) edge[br] (yx6c7e)
      edge[br] (yx6c7f) edge[br] (yx6c7g) edge[br] (yx6c7h) edge[br] (yx6c7i) edge[br] (yx6c7j);
\draw (yx6c7a) edge[br] (yx6c7a1) edge[one] (yx6c7a2) edge[br] (yx6c7a3);
\draw (yx6c7b) edge[br] (yx6c7b1) edge[br] (yx6c7b2) edge[br] (yx6c7b3) edge[br] (yx6c7b4) edge[one] (yx6c7b5)
      edge[br] (yx6c7b6) edge[br] (yx6c7b7) edge[br] (yx6c7b8) edge[br] (yx6c7b9);
\draw (yx6c7c) edge[br] (yx6c7c1) edge[br] (yx6c7c2) edge[br] (yx6c7c3) edge[br] (yx6c7c4) edge[br] (yx6c7c5)
      edge[br] (yx6c7c6) edge[br] (yx6c7c7) edge[br] (yx6c7c8);
\draw (yx6c7d) edge[br] (yx6c7d1) edge[br] (yx6c7d2) edge[br] (yx6c7d3) edge[br] (yx6c7d4) edge[br] (yx6c7d5)
      edge[br] (yx6c7d6) edge[br] (yx6c7d7) edge[br] (yx6c7d8);
\draw (yx6c7e) edge[br] (yx6c7e1) edge[br] (yx6c7e2) edge[br] (yx6c7e3) edge[br] (yx6c7e4);
\draw (yx6c7f) edge[br] (yx6c7f1) edge[br] (yx6c7f2) edge[br] (yx6c7f3) edge[br] (yx6c7f4) edge[br] (yx6c7f5);
\draw (yx6c7f1) edge[br] (yx6c7f1a) edge[one] (yx6c7f1b) edge[br] (yx6c7f1c);
\draw (yx6c7f2) edge[br] (yx6c7f2a) edge[one] (yx6c7f2b) edge[br] (yx6c7f2c);
\draw (yx6c7f3) edge[br] (yx6c7f3a) edge[one] (yx6c7f3b) edge[br] (yx6c7f3c);
\draw (yx6c7f4) edge[br] (yx6c7f4a) edge[br] (yx6c7f4b);
\draw (yx6c7f5) edge[br] (yx6c7f5a) edge[one] (yx6c7f5b) edge[br] (yx6c7f5c);
\draw (yx6c7g) edge[br] (yx6c7g1) edge[br] (yx6c7g2) edge[br] (yx6c7g3) edge[br] (yx6c7g4) edge[br] (yx6c7g5)
      edge[br] (yx6c7g6) edge[br] (yx6c7g7) edge[br] (yx6c7g8) edge[br] (yx6c7g9);
\draw (yx6c7g8) edge[br] (yx6c7g8a) edge[br] (yx6c7g8b);
\draw (yx6c7g9) edge[br] (yx6c7g9a) edge[one] (yx6c7g9b) edge[br] (yx6c7g9c);
\draw (yx6c7h) edge[br] (yx6c7h1) edge[br] (yx6c7h2);
\draw (yx6c7i) edge[br] (yx6c7i1) edge[br] (yx6c7i2) edge[one] (yx6c7i3) edge[br] (yx6c7i4) edge[br] (yx6c7i5);
\end{tikzpicture}
\end{document}
